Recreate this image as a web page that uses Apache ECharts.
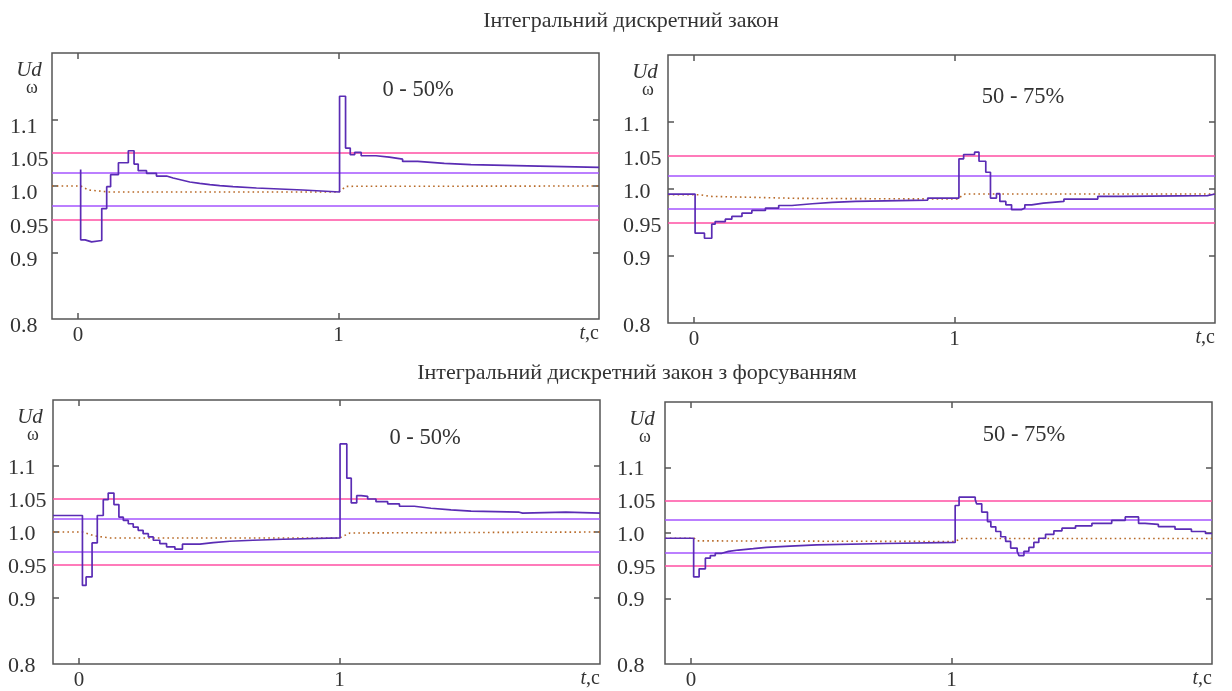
<!DOCTYPE html>
<html><head><meta charset="utf-8">
<script src="https://cdn.jsdelivr.net/npm/echarts@6/dist/echarts.min.js"></script>
<style>html,body{margin:0;padding:0;background:#fff}#c{width:1232px;height:691px}</style>
</head><body><div id="c"></div>
<script>
// ---------- data ----------
const titles = ['Інтегральний дискретний закон', 'Інтегральний дискретний закон з форсуванням'];
const panelLabels = ['0 - 50%', '50 - 75%', '0 - 50%', '50 - 75%'];
const xTickValues = [0, 1];
const yLabelValues = [0.8, 0.9, 0.95, 1.0, 1.05, 1.1];
const yLabelTexts = ['0.8', '0.9', '0.95', '1.0', '1.05', '1.1'];
const yTickValues = [0.9, 1.0, 1.1];
const yNameTop = 'Ud';
const yNameBottom = 'ω';
const thresholdsOuter = [0.95, 1.05];
const thresholdsInner = [0.975, 1.025];

// [t, value held from t on]
const p1Step = [[0.010,1.025],[0.010,0.919],[0.027,0.916],[0.052,0.918],[0.091,0.966],[0.110,0.999],[0.125,1.017],[0.155,1.035],[0.193,1.053],[0.215,1.033],[0.231,1.023],[0.263,1.019],[0.301,1.015],[0.340,1.012],[0.365,1.009],[0.397,1.006],[0.429,1.004],[0.467,1.002],[0.506,1.0005],[0.544,0.999],[0.595,0.997],[0.685,0.994],[0.863,0.991],[1.004,1.135],[1.027,1.057],[1.045,1.047],[1.062,1.0505],[1.087,1.0455],[1.144,1.0434],[1.195,1.0404],[1.246,1.037],[1.304,1.034],[1.406,1.032],[1.508,1.030],[1.770,1.028],[2.0,1.028]];
const p1Dot = [[-0.1,1.0],[0.01,1.0],[0.04,0.994],[0.12,0.991],[1.0,0.991],[1.03,0.9995],[2.0,1.0]];

const p2Step = [[-0.1,0.9925],[0.004,0.934],[0.040,0.9265],[0.068,0.9475],[0.081,0.9514],[0.120,0.955],[0.145,0.959],[0.184,0.964],[0.222,0.968],[0.274,0.9715],[0.325,0.9754],[0.376,0.978],[0.454,0.980],[0.531,0.9814],[0.621,0.9835],[0.897,0.9865],[1.017,1.045],[1.035,1.0515],[1.077,1.055],[1.094,1.0414],[1.120,1.025],[1.138,0.9865],[1.161,0.993],[1.174,0.9814],[1.197,0.9764],[1.219,0.969],[1.257,0.9715],[1.270,0.9764],[1.296,0.979],[1.341,0.9814],[1.420,0.985],[1.550,0.989],[1.640,0.990],[1.971,0.9925],[2.0,0.9925]];
const p2Dot = [[-0.1,0.9915],[0.02,0.9915],[0.06,0.989],[0.4,0.986],[1.01,0.985],[1.04,0.9925],[2.0,0.9925]];

const p3Step = [[-0.1,1.025],[0.013,0.919],[0.027,0.932],[0.050,0.9835],[0.070,1.025],[0.093,1.049],[0.112,1.059],[0.134,1.0415],[0.153,1.0225],[0.170,1.0175],[0.189,1.0125],[0.208,1.0075],[0.227,1.0025],[0.246,0.9975],[0.266,0.9925],[0.285,0.9875],[0.310,0.9825],[0.336,0.9775],[0.368,0.974],[0.397,0.9815],[0.464,0.984],[0.515,0.986],[0.579,0.9875],[0.668,0.989],[0.783,0.991],[1.002,1.1335],[1.028,1.0815],[1.045,1.044],[1.066,1.055],[1.083,1.054],[1.108,1.050],[1.140,1.046],[1.185,1.0425],[1.230,1.039],[1.287,1.036],[1.351,1.0335],[1.428,1.0315],[1.505,1.030],[1.690,1.0285],[1.703,1.030],[1.869,1.0285],[2.0,1.0285]];
const p3Dot = [[-0.1,1.0],[0.013,1.0],[0.06,0.994],[0.12,0.991],[1.0,0.991],[1.04,0.9985],[2.0,1.0]];

const p4Step = [[-0.1,0.992],[0.010,0.933],[0.031,0.9453],[0.055,0.9615],[0.074,0.9655],[0.093,0.969],[0.118,0.972],[0.144,0.974],[0.182,0.976],[0.239,0.978],[0.290,0.980],[0.380,0.982],[0.482,0.984],[0.749,0.9856],[1.014,1.042],[1.029,1.0547],[1.091,1.051],[1.096,1.0446],[1.116,1.032],[1.138,1.0174],[1.151,1.0094],[1.170,1.0023],[1.189,0.9943],[1.208,0.9872],[1.227,0.977],[1.252,0.972],[1.259,0.9655],[1.278,0.972],[1.297,0.978],[1.316,0.9856],[1.335,0.992],[1.361,0.998],[1.393,1.0033],[1.424,1.0073],[1.476,1.0109],[1.539,1.0148],[1.615,1.0194],[1.667,1.0245],[1.718,1.0148],[1.743,1.0133],[1.794,1.0098],[1.858,1.0058],[1.921,1.0023],[1.975,0.9992],[2.0,0.9992]];
const p4Dot = [[-0.1,0.992],[0.012,0.992],[0.025,0.988],[1.01,0.987],[1.04,0.9917],[2.0,0.9917]];

const stepData = [p1Step, p2Step, p3Step, p4Step];
const dotData = [p1Dot, p2Dot, p3Dot, p4Dot];

// ---------- layout / style ----------
const FONT = '"Liberation Serif", "Times New Roman", serif';
const TXT = '#333';
const BOX = '#555';
const PINK = '#ff4fa3';
const VIOLET = '#a455ff';
const STEP = '#5a2cb4';
const DOT = '#b86a28';
const grids = [
  {left: 52, top: 53, width: 547, height: 266, labMargin: 42, labLH: 15, note: [366, 37]},
  {left: 668, top: 55, width: 547, height: 268, labMargin: 45, labLH: 7, note: [355, 42]},
  {left: 53, top: 400, width: 547, height: 266, labMargin: 45, labLH: 5, note: [372, 38]},
  {left: 665, top: 402, width: 547, height: 266, labMargin: 48, labLH: 4, note: [359, 33]}
];
const titlePos = [[631, 21], [637, 373]];

const chart = echarts.init(document.getElementById('c'), null, {renderer: 'canvas'});

const option = {
  backgroundColor: '#fff',
  animation: false,
  grid: [], xAxis: [], yAxis: [], series: [], graphic: []
};

const yFmt = v => {
  const k = yLabelValues.findIndex(u => Math.abs(u - v) < 1e-6);
  return k >= 0 ? yLabelTexts[k] : '';
};

grids.forEach((g, i) => {
  option.grid.push({left: g.left, top: g.top, width: g.width, height: g.height, show: true,
    borderColor: BOX, borderWidth: 1.5, backgroundColor: 'transparent', containLabel: false});
  const tickStyle = {color: BOX, width: 1.5};
  option.xAxis.push({
    gridIndex: i, type: 'value', min: -0.1, max: 2.0, position: 'bottom',
    axisLine: {show: false, onZero: false}, splitLine: {show: false},
    axisTick: {show: true, inside: true, length: 6, customValues: xTickValues, lineStyle: tickStyle},
    axisLabel: {show: true, customValues: xTickValues, margin: 6, fontFamily: FONT, fontSize: 21, color: TXT},
    name: '{i|t},c', nameLocation: 'end', nameGap: 0,
    nameTextStyle: {align: 'right', verticalAlign: 'top', padding: [5, 0, 0, 0], fontFamily: FONT, fontSize: 20, color: TXT,
      rich: {i: {fontStyle: 'italic', fontFamily: FONT, fontSize: 20, color: TXT}}}
  });
  option.xAxis.push({
    gridIndex: i, type: 'value', min: -0.1, max: 2.0, position: 'top',
    axisLine: {show: false, onZero: false}, splitLine: {show: false},
    axisTick: {show: true, inside: true, length: 6, customValues: xTickValues, lineStyle: tickStyle},
    axisLabel: {show: false}
  });
  option.yAxis.push({
    gridIndex: i, type: 'value', min: 0.8, max: 1.2, position: 'left',
    axisLine: {show: false, onZero: false}, splitLine: {show: false},
    axisTick: {show: true, inside: true, length: 6, customValues: yTickValues, lineStyle: tickStyle},
    axisLabel: {show: true, customValues: yLabelValues, formatter: yFmt, align: 'left', verticalAlign: 'top',
      lineHeight: g.labLH, margin: g.labMargin, fontFamily: FONT, fontSize: 22, color: TXT}
  });
  option.yAxis.push({
    gridIndex: i, type: 'value', min: 0.8, max: 1.2, position: 'right',
    axisLine: {show: false, onZero: false}, splitLine: {show: false},
    axisTick: {show: true, inside: true, length: 6, customValues: yTickValues, lineStyle: tickStyle},
    axisLabel: {show: false}
  });
  const mlData = [];
  thresholdsOuter.forEach(v => mlData.push({yAxis: v, lineStyle: {color: PINK, width: 1.7, type: 'solid'}}));
  thresholdsInner.forEach(v => mlData.push({yAxis: v, lineStyle: {color: VIOLET, width: 1.7, type: 'solid'}}));
  option.series.push({
    type: 'line', xAxisIndex: 2 * i, yAxisIndex: 2 * i, data: dotData[i], showSymbol: false, z: 3,
    lineStyle: {color: DOT, width: 1.6, type: [1.6, 3.2]},
    markLine: {silent: true, symbol: 'none', label: {show: false}, animation: false, data: mlData}
  });
  option.series.push({
    type: 'line', xAxisIndex: 2 * i, yAxisIndex: 2 * i, data: stepData[i], step: 'end', showSymbol: false, z: 5,
    lineStyle: {color: STEP, width: 1.7}
  });
  // y-axis names and panel note
  option.graphic.push({type: 'text', x: g.left - 23, y: g.top + 17, z: 10,
    style: {text: yNameTop, font: 'italic 21px ' + FONT, fill: TXT, align: 'center', verticalAlign: 'middle'}});
  option.graphic.push({type: 'text', x: g.left - 20, y: g.top + 35, z: 10,
    style: {text: yNameBottom, font: '18px ' + FONT, fill: TXT, align: 'center', verticalAlign: 'middle'}});
  option.graphic.push({type: 'text', x: g.left + g.note[0], y: g.top + g.note[1], z: 10,
    style: {text: panelLabels[i], font: '22.5px ' + FONT, fill: TXT, align: 'center', verticalAlign: 'middle'}});
});
titles.forEach((t, k) => {
  option.graphic.push({type: 'text', x: titlePos[k][0], y: titlePos[k][1], z: 10,
    style: {text: t, font: '22px ' + FONT, fill: TXT, align: 'center', verticalAlign: 'middle'}});
});

chart.setOption(option);
</script>
</body></html>
